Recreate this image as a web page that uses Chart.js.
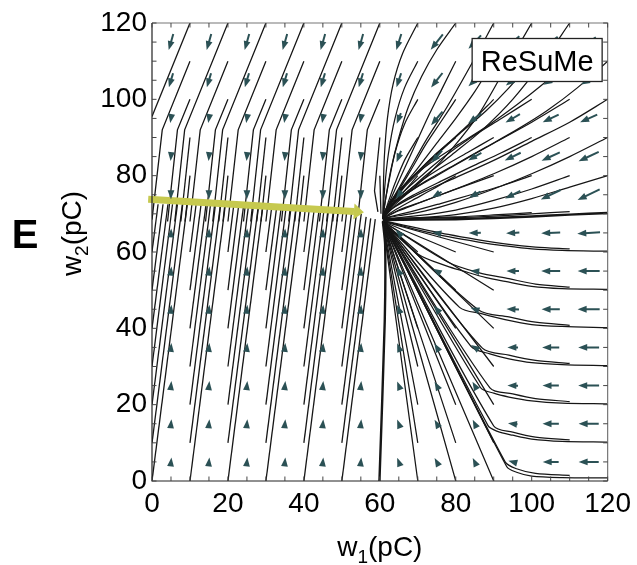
<!DOCTYPE html>
<html>
<head>
    <title>ReSuMe weight flow</title>
    <style>
        body { margin: 0; padding: 0; background: #fff; }
        #wrap { width: 637px; height: 565px; }
    </style>
</head>
<body>
<div id="wrap"><canvas id="flow" width="637" height="565"></canvas></div>

<script src="https://cdn.jsdelivr.net/npm/chart.js@4"></script>
<script>
// ---- data (w1, w2 in pC) ----
const xTickLabels = [0, 20, 40, 60, 80, 100, 120];
const yTickLabels = [0, 20, 40, 60, 80, 100, 120];
const minorTicks = [0, 5, 10, 15, 20, 25, 30, 35, 40, 45, 50, 55, 60, 65, 70, 75, 80, 85, 90, 95, 100, 105, 110, 115, 120];

// streamlines below the w2 ~ 70 line, left of the node (rising)
const lowerLeftLines = [
    [[0,0],[9.3,72.5]], [[0,10],[8.0,72.5]], [[0,20],[6.7,72.5]], [[0,30],[5.4,72.5]], [[0,40],[4.2,72.5]], [[0,50],[2.9,72.5]], [[0,60],[1.6,72.5]],
    [[10,0],[19.3,72.3]], [[10,10],[18.0,72.3]], [[10,20],[16.7,72.3]], [[10,30],[15.4,72.3]], [[10,40],[14.2,72.3]], [[10,50],[12.9,72.3]], [[10,60],[11.6,72.3]],
    [[20,0],[29.2,72]], [[20,10],[28.0,72]], [[20,20],[26.7,72]], [[20,30],[25.4,72]], [[20,40],[24.1,72]], [[20,50],[22.8,72]], [[20,60],[21.5,72]],
    [[30,0],[39.2,71.5]], [[30,10],[37.9,71.5]], [[30,20],[36.6,71.5]], [[30,30],[35.3,71.5]], [[30,40],[34.0,71.5]], [[30,50],[32.8,71.5]], [[30,60],[31.5,71.5]],
    [[40,0],[49.1,71]], [[40,10],[47.8,71]], [[40,20],[46.5,71]], [[40,30],[45.3,71]], [[40,40],[44.0,71]], [[40,50],[42.7,71]], [[40,60],[41.4,71]],
    [[50,0],[58.8,68.6]], [[50,10],[57.6,68.8]], [[50,20],[56.4,69.2]], [[50,30],[55.1,70]], [[50,40],[53.9,70.4]], [[50,50],[52.6,70.6]], [[50,60],[51.3,70.6]]
];

// streamlines above, left of the node (falling)
const upperLeftLines = [
    [[10,120],[0,95.5]],
    [[20,120],[8.6,92],[6.0,68]], [[30,120],[18.6,92],[16.0,68]], [[40,120],[28.6,92],[26.0,68]],
    [[50,120],[38.6,92],[36.0,68]], [[60,120],[48.6,92],[46.0,68]],
    [[10,110],[2.7,92],[0,68.5]], [[20,110],[12.7,92],[10.0,68]], [[30,110],[22.7,92],[20.0,68]],
    [[40,110],[32.7,92],[30.0,68]], [[50,110],[42.7,92],[40.0,68]], [[60,110],[52.7,92],[50.0,68]],
    [[10,100],[6.7,92],[4.1,68]], [[20,100],[16.7,92],[14.1,68]], [[30,100],[26.7,92],[24.1,68]],
    [[40,100],[36.7,92],[34.1,68]], [[50,100],[46.7,92],[44.1,68]], [[60,100],[56.7,92],[54.3,70]],
    [[10,90],[7.6,68]], [[20,90],[17.6,68]], [[30,90],[27.6,68]], [[40,90],[37.6,68]], [[50,90],[47.6,68]], [[60,90],[58.6,76],[59.5,70.5]],
    [[10,80],[8.7,68]], [[20,80],[18.7,68]], [[30,80],[28.7,68]], [[40,80],[38.7,68]], [[50,80],[48.7,68]], [[60,80],[60.3,70]]
];

// streamlines above, right of the node (down-left into the node)
const upperRightLines = [
    [[70,120],[66,112],[63.5,104],[62,95],[61.2,85],[60.9,75],[60.8,68.8]],
    [[70,110],[66.5,103],[64,95],[62.3,86],[61.3,77],[60.8,68.8]],
    [[70,100],[66.5,93.5],[64,86],[62.3,78],[61.2,72],[60.8,68.8]],
    [[70,90],[66.5,84],[64,78],[62.2,73],[60.8,68.8]],
    [[70,80],[66.5,76],[63.5,72.5],[60.8,68.8]],
    [[80,120],[75,113],[71,106],[67.5,98],[65,90],[63,82],[61.7,75],[60.8,68.8]],
    [[80,110],[76.5,103],[73,96],[70,89.5],[67,83],[64.5,77.5],[62.3,72.5],[60.8,68.8]],
    [[80,100],[76,94],[72,88],[68.5,82],[65.5,77],[63,73],[60.8,68.8]],
    [[80,90],[75,85.5],[70.5,81],[66.5,77],[63.5,73],[60.8,68.8]],
    [[80,80],[74,76.5],[68.5,73.5],[64,71],[60.8,68.8]],
    [[90,120],[84,109],[77.7,98],[72,89],[67.5,81],[64,75],[61.5,71],[60.8,68.8]],
    [[90,110],[85,102],[80,95],[75,88.5],[70,82],[66,77],[62.8,72.5],[60.8,68.8]],
    [[90,100],[84,94],[78,88.5],[72,83],[67,78],[63.5,73.5],[60.8,68.8]],
    [[90,90],[83,86],[76,82],[70,78],[65,74],[62,71],[60.8,68.8]],
    [[90,80],[83,77.5],[76,75],[70,72.7],[65,70.8],[60.8,68.8]],
    [[100,120],[93,108],[86,96],[79,87],[73,80.5],[67.5,75.5],[63,71.5],[60.8,68.8]],
    [[100,110],[94,103],[88,97],[81,91],[74,85],[68,79],[64,74.5],[61.5,71],[60.8,68.8]],
    [[100,100],[92,95],[84,90],[77,85],[71,80],[66,75.5],[62.5,71.5],[60.8,68.8]],
    [[100,90],[92,86],[84,82.3],[76,78.5],[69,75],[64,72],[60.8,68.8]],
    [[100,80],[92,77.3],[84,75],[76,72.7],[68,70.5],[60.8,68.8]],
    [[110,120],[103,110],[95,100],[87,92],[79,85.5],[72,80],[66.5,75],[62.5,71.5],[60.8,68.8]],
    [[110,110],[103,104],[96,98.5],[89,93.5],[82,89],[75,84.5],[69,80],[64.5,75.5],[61.5,71],[60.8,68.8]],
    [[110,100],[100,94],[90,88.5],[82,84],[75,80],[69,76.5],[64,73],[61.5,70.2],[60.8,68.8]],
    [[110,90],[100,85],[90,80.5],[80,76.5],[72,73.5],[65,71],[60.8,68.8]],
    [[110,80],[100,76.5],[90,73.5],[80,71],[70,69.5],[60.8,68.6]],
    [[120,110],[112,103],[104,97],[96,92],[88,87.5],[80,83],[72,78.5],[66,74.5],[62,71],[60.8,68.8]],
    [[120,100],[110,94],[100,89],[90,84],[80,79.5],[72,76],[66,73],[62,70.5],[60.8,68.8]],
    [[120,90],[110,85],[100,80.5],[90,76.5],[80,73],[72,70.8],[65,69.5],[60.8,68.8]],
    [[120,80],[110,77],[100,74],[90,71.5],[80,69.8],[70,69],[60.8,68.6]],
    [[110,70.6],[100,70],[90,69.4],[80,69],[60.8,68.6]],
    [[100,70.3],[90,69.7],[80,69.2],[60.8,68.7]]
];

// streamlines below, right of the node (leftwards, then up-left into the node)
const lowerRightLines = [
    [[120,0.8],[108,0.9],[100,1.3],[96,2.3],[93.4,3.8],[60.8,68]],
    [[110,1.5],[101,2],[96,3.2],[93,5],[60.8,68]],
    [[120,10.2],[108,10.4],[100,11],[95,12],[91,13],[88.5,14.5],[60.8,68]],
    [[110,10.8],[101,11.5],[95,12.8],[90,14.4],[60.8,68]],
    [[120,20.2],[108,20.4],[100,21],[94,22],[90,23],[86.5,24.5],[60.8,68]],
    [[110,20.8],[101,21.6],[95,22.8],[89,24.4],[60.8,68]],
    [[120,30.2],[108,30.5],[100,31],[94,32],[89,33.3],[84,35.3],[60.8,68]],
    [[110,30.8],[101,31.6],[94,33],[87,34.8],[60.8,68]],
    [[120,40.2],[108,40.5],[100,41],[93,42.3],[87,43.8],[81,45.5],[60.8,68]],
    [[110,40.8],[101,41.6],[94,43],[86,44.8],[60.8,68]],
    [[120,50.2],[108,50.4],[100,51],[93,52.3],[88,53.3],[82,55],[77.7,56.3],[70,59.5],[60.8,68]],
    [[110,50.8],[101,51.6],[94,53],[86,54.6],[78,57.3],[60.8,68]],
    [[120,60.2],[108,60.4],[100,60.8],[93,61.6],[86,62.6],[78,64],[70,65.8],[60.8,68.2]],
    [[110,60.8],[101,61.3],[94,62],[86,63.2],[78,64.6],[60.8,68.2]],
    [[90,0],[60.8,68]], [[90,10],[60.8,68]], [[90,20],[60.8,68]], [[90,30],[60.8,68]], [[90,40],[60.8,68]], [[90,50],[60.8,68]], [[90,60],[60.8,68]],
    [[80,0],[60.8,68]], [[80,10],[60.8,68]], [[80,20],[60.8,68]], [[80,30],[60.8,68]], [[80,40],[60.8,68]], [[80,50],[60.8,68]], [[80,60],[60.8,68]],
    [[70,0],[64.3,42],[60.8,68]], [[70,10],[60.8,68]], [[70,20],[60.8,68]], [[70,30],[60.8,68]], [[70,40],[60.8,68]], [[70,50],[60.8,68]], [[70,60],[60.8,68]]
];

// heavy (overlapping) lines: the vertical one under the node and the horizontal one into it
const heavyLines = [
    [[59.9,0],[61.3,42],[61.4,62],[60.8,68]],
    [[120,70.2],[110,69.8],[100,69.3],[90,68.9],[80,68.6],[60.8,68.4]]
];

// the learning trajectory (yellow arrow)
const yellowPath = [[-1,73.8],[53.2,70.6]];
const yellowTip = [55.8, 70.4];

// direction arrows on a 10 pC grid, [dw1, dw2] per cell
const arrowCols = [5, 15, 25, 35, 45, 55, 65, 75, 85, 95, 105, 115];
const arrowRows = [115, 105, 95, 85, 75, 65, 55, 45, 35, 25, 15, 5];
const arrowVectors = [
    [[-1.2,-4.2],[-1.2,-4.2],[-1.2,-4.2],[-1.2,-4.2],[-1.2,-4.2],[-1.2,-4.2],[-1.3,-4.2],[-3.2,-4],[-3.3,-3.5],[-3.5,-3],[-3.7,-2.7],[-3.8,-2.5]],
    [[-1.1,-3.7],[-1.1,-3.7],[-1.1,-3.7],[-1.1,-3.7],[-1.1,-3.7],[-1.1,-3.7],[-1.2,-3.7],[-3,-3.8],[-3.3,-3.2],[-3.6,-2.7],[-3.8,-2.4],[-4,-2.2]],
    [[-0.4,-2.4],[-0.4,-2.4],[-0.4,-2.4],[-0.4,-2.4],[-0.4,-2.4],[-0.4,-2.4],[-1.1,-2.8],[-3,-3.6],[-3.5,-2.6],[-3.8,-2.2],[-4.2,-2],[-4.5,-2]],
    [[-0.2,-2.2],[-0.2,-2.2],[-0.2,-2.2],[-0.2,-2.2],[-0.2,-2.2],[-0.2,-2.2],[-1.2,-3],[-2.8,-3.2],[-3.5,-2],[-4.2,-2],[-4.8,-2.2],[-5.3,-2.5]],
    [[0,-2],[0,-2],[0,-2],[0,-2],[0,-2],[0,-2],[-1.5,-2],[-2.5,-1.5],[-3,-1.6],[-4,-2],[-5.2,-2.5],[-5.8,-2.8]],
    [[0.1,2],[0.1,2],[0.1,2],[0.1,2],[0.1,2],[0.1,2],[-1,1],[-2,0.4],[-3.2,-0.1],[-3.5,-0.2],[-5,-0.2],[-6,-0.4]],
    [[0.2,2],[0.2,2],[0.2,2],[0.2,2],[0.2,2],[0.2,2],[-0.7,1.6],[-1.7,1],[-2,0.2],[-3.3,0],[-5,0],[-5.8,0]],
    [[0.2,2],[0.2,2],[0.2,2],[0.2,2],[0.2,2],[0.2,2],[-0.7,1.7],[-1.3,1.6],[-2,0.7],[-3.3,0.1],[-4.8,0],[-5.8,0]],
    [[0.2,2],[0.2,2],[0.2,2],[0.2,2],[0.2,2],[0.2,2],[-0.7,1.8],[-1.1,1.8],[-1.6,1],[-2.8,0],[-4.5,0],[-5.5,0]],
    [[0.2,2],[0.2,2],[0.2,2],[0.2,2],[0.2,2],[0.2,2],[-0.7,1.8],[-1,1.8],[-1,1.7],[-2.8,0.1],[-4.3,0],[-5.5,0]],
    [[0.2,2],[0.2,2],[0.2,2],[0.2,2],[0.2,2],[0.2,2],[-0.7,1.8],[-1,1.8],[-0.9,1.8],[-2.5,0.3],[-4.3,0],[-5.3,0]],
    [[0.2,2],[0.2,2],[0.2,2],[0.2,2],[0.2,2],[0.2,2],[-0.7,1.8],[-1,1.8],[-0.9,1.8],[-2.2,0.6],[-4.2,0],[-5.3,0]]
];

const FONT = "'Liberation Sans', Arial, Helvetica, sans-serif";
const LINE_COLOR = '#161616';
const ARROW_COLOR = '#2b5155';
const YELLOW = '#c6c94f';

function toXY(line) {
    return line.map(p => ({ x: p[0], y: p[1] }));
}

function lineSet(line, width, tension) {
    return {
        data: toXY(line),
        showLine: true,
        pointRadius: 0,
        borderColor: LINE_COLOR,
        borderWidth: width,
        tension: tension,
        fill: false
    };
}

const datasets = [];
datasets.push({
    data: toXY(yellowPath),
    showLine: true,
    pointRadius: 0,
    borderColor: YELLOW,
    borderWidth: 7,
    borderCapStyle: 'butt',
    order: -1,
    clip: false
});
lowerLeftLines.forEach(l => datasets.push(lineSet(l, 1.3, 0)));
upperLeftLines.forEach(l => datasets.push(lineSet(l, 1.3, 0)));
upperRightLines.forEach(l => datasets.push(lineSet(l, 1.25, 0.3)));
lowerRightLines.forEach(l => datasets.push(lineSet(l, 1.25, 0.3)));
heavyLines.forEach(l => datasets.push(lineSet(l, 2.4, 0.2)));

// arrows on the grid + yellow arrow head
const arrowPlugin = {
    id: 'arrows',
    afterDatasetsDraw(chart) {
        const ctx = chart.ctx;
        const xs = chart.scales.x, ys = chart.scales.y;
        const area = chart.chartArea;
        const headLen = 9, halfW = 3.4;
        ctx.save();
        ctx.beginPath();
        ctx.rect(area.left, area.top, area.right - area.left, area.bottom - area.top);
        ctx.clip();
        ctx.fillStyle = ARROW_COLOR;
        ctx.strokeStyle = ARROW_COLOR;
        ctx.lineWidth = 2;
        arrowRows.forEach((r, i) => {
            arrowCols.forEach((c, j) => {
                const v = arrowVectors[i][j];
                const x0 = xs.getPixelForValue(c), y0 = ys.getPixelForValue(r);
                const vx = xs.getPixelForValue(c + v[0]) - x0;
                const vy = ys.getPixelForValue(r + v[1]) - y0;
                const len = Math.hypot(vx, vy);
                const ux = vx / len, uy = vy / len;
                const L = Math.max(len, headLen);
                const tx = x0 + ux * L / 2, ty = y0 + uy * L / 2;
                const sx = x0 - ux * L / 2, sy = y0 - uy * L / 2;
                if (L > headLen + 0.5) {
                    ctx.beginPath();
                    ctx.moveTo(sx, sy);
                    ctx.lineTo(tx - ux * headLen * 0.8, ty - uy * headLen * 0.8);
                    ctx.stroke();
                }
                const bx = tx - ux * headLen, by = ty - uy * headLen;
                ctx.beginPath();
                ctx.moveTo(tx, ty);
                ctx.lineTo(bx - uy * halfW, by + ux * halfW);
                ctx.lineTo(bx + uy * halfW, by - ux * halfW);
                ctx.closePath();
                ctx.fill();
            });
        });
        ctx.restore();

        // yellow head
        const last = yellowPath[yellowPath.length - 1];
        const bx = xs.getPixelForValue(last[0]), by = ys.getPixelForValue(last[1]);
        const tx = xs.getPixelForValue(yellowTip[0]), ty = ys.getPixelForValue(yellowTip[1]);
        const d = Math.hypot(tx - bx, ty - by);
        const ux = (tx - bx) / d, uy = (ty - by) / d;
        const hx = tx - ux * 10, hy = ty - uy * 10;
        ctx.save();
        ctx.fillStyle = YELLOW;
        ctx.beginPath();
        ctx.moveTo(tx, ty);
        ctx.lineTo(hx - uy * 8, hy + ux * 8);
        ctx.lineTo(hx + uy * 8, hy - ux * 8);
        ctx.closePath();
        ctx.fill();
        ctx.restore();
    }
};

// frame, inward ticks, legend box, axis titles, panel letter
const decorPlugin = {
    id: 'decor',
    afterDraw(chart) {
        const ctx = chart.ctx;
        const xs = chart.scales.x, ys = chart.scales.y;
        const a = chart.chartArea;
        ctx.save();

        // frame
        ctx.lineWidth = 1.2;
        ctx.strokeStyle = '#777';
        ctx.beginPath();
        ctx.moveTo(a.left, a.top); ctx.lineTo(a.right, a.top); ctx.lineTo(a.right, a.bottom);
        ctx.stroke();
        ctx.strokeStyle = '#222';
        ctx.beginPath();
        ctx.moveTo(a.left, a.top); ctx.lineTo(a.left, a.bottom); ctx.lineTo(a.right, a.bottom);
        ctx.stroke();

        // inward ticks on all four sides
        ctx.lineWidth = 1;
        ctx.strokeStyle = '#444';
        const tl = 4.5;
        minorTicks.forEach(v => {
            const px = xs.getPixelForValue(v);
            const py = ys.getPixelForValue(v);
            ctx.beginPath();
            ctx.moveTo(px, a.bottom); ctx.lineTo(px, a.bottom - tl);
            ctx.moveTo(px, a.top); ctx.lineTo(px, a.top + tl);
            ctx.moveTo(a.left, py); ctx.lineTo(a.left + tl, py);
            ctx.moveTo(a.right, py); ctx.lineTo(a.right - tl, py);
            ctx.stroke();
        });

        // legend box
        const bw = 130, bh = 43;
        const bxl = a.right - 5.5 - bw, byt = a.top + 15.5;
        ctx.fillStyle = '#fff';
        ctx.fillRect(bxl, byt, bw, bh);
        ctx.strokeStyle = '#222';
        ctx.lineWidth = 1.3;
        ctx.strokeRect(bxl, byt, bw, bh);
        ctx.fillStyle = '#000';
        ctx.font = '29px ' + FONT;
        ctx.textAlign = 'center';
        ctx.textBaseline = 'alphabetic';
        ctx.fillText('ReSuMe', bxl + bw / 2, byt + 32);

        // axis title helper: "w" + subscript + "(pC)"
        function subTitle(cx, cy, sub) {
            ctx.font = '28px ' + FONT;
            const wW = ctx.measureText('w').width;
            const rW = ctx.measureText('(pC)').width;
            ctx.font = '19px ' + FONT;
            const sW = ctx.measureText(sub).width;
            const total = wW + sW + rW;
            let x = cx - total / 2;
            ctx.textAlign = 'left';
            ctx.textBaseline = 'alphabetic';
            ctx.font = '28px ' + FONT;
            ctx.fillText('w', x, cy);
            x += wW;
            ctx.font = '19px ' + FONT;
            ctx.fillText(sub, x, cy + 7);
            x += sW;
            ctx.font = '28px ' + FONT;
            ctx.fillText('(pC)', x, cy);
        }
        ctx.fillStyle = '#000';
        subTitle((a.left + a.right) / 2, 556, '1');

        ctx.save();
        ctx.translate(81, 233.5);
        ctx.rotate(-Math.PI / 2);
        subTitle(0, 0, '2');
        ctx.restore();

        // panel letter
        ctx.font = 'bold 40px ' + FONT;
        ctx.textAlign = 'center';
        ctx.textBaseline = 'alphabetic';
        ctx.fillText('E', 25, 248);

        ctx.restore();
    }
};

new Chart(document.getElementById('flow'), {
    type: 'scatter',
    data: { datasets: datasets },
    options: {
        responsive: false,
        devicePixelRatio: 1,
        animation: false,
        layout: { padding: { left: 0, right: 25, top: 23, bottom: 0 } },
        plugins: { legend: { display: false }, tooltip: { enabled: false } },
        scales: {
            x: {
                type: 'linear', min: 0, max: 120,
                afterBuildTicks: s => { s.ticks = xTickLabels.map(v => ({ value: v })); },
                afterFit: s => { s.height = 84; },
                ticks: { font: { size: 28, family: FONT }, color: '#000', padding: 6, maxRotation: 0, autoSkip: false },
                grid: { display: false, drawTicks: false },
                border: { display: false }
            },
            y: {
                type: 'linear', min: 0, max: 120,
                afterBuildTicks: s => { s.ticks = yTickLabels.map(v => ({ value: v })); },
                afterFit: s => { s.width = 152; },
                ticks: { font: { size: 28, family: FONT }, color: '#000', padding: 5, autoSkip: false },
                grid: { display: false, drawTicks: false },
                border: { display: false }
            }
        }
    },
    plugins: [arrowPlugin, decorPlugin]
});
</script>
</body>
</html>
